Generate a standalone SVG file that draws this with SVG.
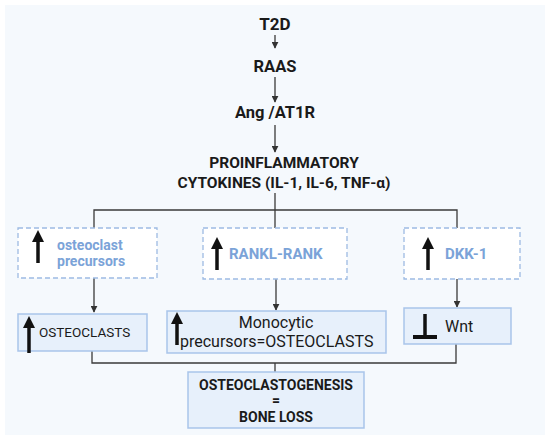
<svg xmlns="http://www.w3.org/2000/svg" width="550" height="440" viewBox="0 0 550 440">
<defs>
<marker id="ah" viewBox="0 0 10 10" refX="9" refY="5" markerWidth="7" markerHeight="7" markerUnits="userSpaceOnUse" orient="auto">
<path d="M0,0 L10,5 L0,10 z" fill="#333"/>
</marker>
</defs>
<style>
.h{font-family:Roboto,"Liberation Sans",sans-serif;font-weight:bold;fill:#1a1a1a;text-anchor:middle}
.b{font-family:Roboto,"Liberation Sans",sans-serif;font-weight:bold;fill:#7ba3d8}
.r{font-family:Roboto,"Liberation Sans",sans-serif;fill:#1a1a1a}
.dash{fill:#ffffff;stroke:#9dbbe3;stroke-width:1.3;stroke-dasharray:5 3}
.sol{fill:#e7f0fb;stroke:#a9c5ea;stroke-width:1.5}
.ln{fill:none;stroke:#3a3a3a;stroke-width:1.3}
.up{fill:#111}
</style>
<rect x="0" y="0" width="550" height="440" fill="#ffffff"/>
<rect x="5" y="5" width="540" height="430" fill="#f5f9fd"/>

<g id="connectors">
<line class="ln" x1="275" y1="35" x2="275" y2="48" marker-end="url(#ah)"/>
<line class="ln" x1="275" y1="77" x2="275" y2="102" marker-end="url(#ah)"/>
<line class="ln" x1="275" y1="125" x2="275" y2="152" marker-end="url(#ah)"/>
<line class="ln" x1="275" y1="193" x2="275" y2="228"/>
<polyline class="ln" points="94,228 94,210 457,210 457,228"/>
<line class="ln" x1="94" y1="278" x2="94" y2="312" marker-end="url(#ah)"/>
<line class="ln" x1="276" y1="279" x2="276" y2="310" marker-end="url(#ah)"/>
<line class="ln" x1="457" y1="279" x2="457" y2="307" marker-end="url(#ah)"/>
<polyline class="ln" points="92,351 92,363 456,363 456,344"/>
<line class="ln" x1="275" y1="363" x2="275" y2="372"/>
</g>

<g id="t2d"><text class="h" x="275" y="30" font-size="17">T2D</text></g>
<g id="raas"><text class="h" x="275" y="72" font-size="16.5">RAAS</text></g>
<g id="ang"><text class="h" x="275" y="118" font-size="16.5">Ang /AT1R</text></g>
<g id="cytokines">
<text class="h" x="284" y="168" font-size="15.5">PROINFLAMMATORY</text>
<text class="h" x="284" y="188" font-size="15.5">CYTOKINES (IL-1, IL-6, TNF-α)</text>
</g>

<g id="osteoclast-precursors">
<rect class="dash" x="18" y="228" width="139" height="50"/>
<line x1="38" y1="263" x2="38" y2="240" stroke="#111" stroke-width="3.5"/>
<polygon class="up" points="38,230 32,242 44,242"/>
<text class="b" x="57" y="250" font-size="14">osteoclast</text>
<text class="b" x="57" y="266" font-size="14">precursors</text>
</g>

<g id="rankl-rank">
<rect class="dash" x="203" y="228" width="144" height="51"/>
<line x1="217" y1="270" x2="217" y2="247" stroke="#111" stroke-width="3.5"/>
<polygon class="up" points="217,237 211,249 223,249"/>
<text class="b" x="229" y="259" font-size="15">RANKL-RANK</text>
</g>

<g id="dkk1">
<rect class="dash" x="404" y="228" width="116" height="51"/>
<line x1="428" y1="270" x2="428" y2="247" stroke="#111" stroke-width="3.5"/>
<polygon class="up" points="428,237 422,249 434,249"/>
<text class="b" x="445" y="259" font-size="15">DKK-1</text>
</g>

<g id="osteoclasts">
<rect class="sol" x="18" y="314" width="129" height="37"/>
<line x1="29" y1="353" x2="29" y2="326" stroke="#111" stroke-width="3.5"/>
<polygon class="up" points="29,316 23,328 35,328"/>
<text class="r" x="39" y="337" font-size="13.5">OSTEOCLASTS</text>
</g>

<g id="monocytic">
<rect class="sol" x="167" y="311" width="219" height="42"/>
<line x1="177" y1="345" x2="177" y2="322" stroke="#111" stroke-width="3.5"/>
<polygon class="up" points="177,312 171,324 183,324"/>
<text class="r" x="276" y="328" font-size="16" text-anchor="middle">Monocytic</text>
<text class="r" x="180" y="347" font-size="16">precursors=OSTEOCLASTS</text>
</g>

<g id="wnt">
<rect class="sol" x="404" y="308" width="107" height="36"/>
<line x1="425" y1="314" x2="425" y2="337" stroke="#111" stroke-width="3.5"/>
<line x1="413" y1="337" x2="437" y2="337" stroke="#111" stroke-width="4"/>
<text class="r" x="445" y="332" font-size="16">Wnt</text>
</g>

<g id="bone-loss">
<rect class="sol" x="188" y="372" width="176" height="56"/>
<text class="h" x="276" y="390" font-size="14">OSTEOCLASTOGENESIS</text>
<text class="h" x="276" y="405" font-size="14">=</text>
<text class="h" x="276" y="422" font-size="14">BONE LOSS</text>
</g>
</svg>
